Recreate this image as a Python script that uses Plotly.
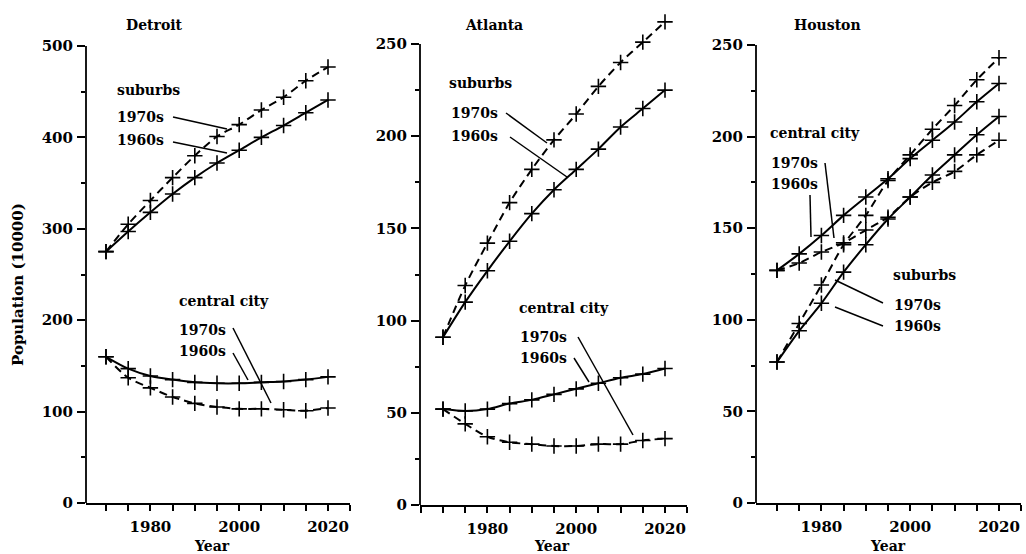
import plotly.graph_objects as go

W, H = 1026, 554

# ---------------- data ----------------
years = [1970, 1975, 1980, 1985, 1990, 1995, 2000, 2005, 2010, 2015, 2020]

detroit_suburbs_1960s = [275, 297, 318, 338, 356, 372, 386, 400, 413, 427, 441]
detroit_suburbs_1970s = [275, 305, 331, 356, 380, 401, 414, 430, 444, 462, 477]
detroit_central_1960s = [160, 147, 139, 135, 132, 131, 131, 132, 133, 135, 138]
detroit_central_1970s = [160, 137, 126, 116, 109, 105, 103, 103, 102, 101, 104]

atlanta_suburbs_1960s = [91, 110, 127, 143, 158, 171, 182, 193, 205, 215, 225]
atlanta_suburbs_1970s = [91, 119, 142, 164, 182, 198, 212, 227, 240, 251, 262]
atlanta_central_1960s = [52, 51, 52, 55, 57, 60, 63, 66, 69, 71, 74]
atlanta_central_1970s = [52, 44, 37, 34, 33, 32, 32, 33, 33, 35, 36]

houston_central_1960s = [127, 136, 146, 157, 167, 177, 188, 198, 208, 219, 229]
houston_central_1970s = [127, 131, 137, 142, 149, 156, 167, 175, 181, 190, 198]
houston_suburbs_1960s = [77, 94, 109, 126, 141, 155, 167, 179, 190, 201, 211]
houston_suburbs_1970s = [77, 98, 119, 141, 157, 176, 190, 204, 217, 231, 243]

city_names = ["Detroit", "Atlanta", "Houston"]
y_tops = [500, 250, 250]
y_major = [100, 50, 50]
x_label_ticks = [1980, 2000, 2020]

FONT = "DejaVu Serif"


def px(x):
    return x / W


def py(y):
    return 1 - y / H


fig = go.Figure()

# pixel layout of each panel: (axis-left px, 1970 px, 2020 px, y0 px, ytop px)
panel_px = [
    (86, 106, 328, 503, 46),
    (420, 443, 665, 505, 44),
    (756, 777, 999, 503, 45),
]

series = [
    [(detroit_suburbs_1960s, "solid"), (detroit_suburbs_1970s, "8px,5px"),
     (detroit_central_1960s, "solid"), (detroit_central_1970s, "8px,5px")],
    [(atlanta_suburbs_1960s, "solid"), (atlanta_suburbs_1970s, "8px,5px"),
     (atlanta_central_1960s, "solid"), (atlanta_central_1970s, "8px,5px")],
    [(houston_central_1960s, "solid"), (houston_central_1970s, "8px,5px"),
     (houston_suburbs_1960s, "solid"), (houston_suburbs_1970s, "8px,5px")],
]

tickfont = dict(family=FONT, size=15, color="black", weight="bold")

for i in range(3):
    ax_left, x1970, x2020, y0px, ytoppx = panel_px[i]
    sx = (x2020 - x1970) / 50.0
    xmin = 1970 - (x1970 - ax_left) / sx
    xmax = 2025
    xright = x1970 + 55 * sx
    sy = (y0px - ytoppx) / y_tops[i]
    ymax = y_tops[i] * 1.08
    top_px = y0px - ymax * sy
    xa = "x" if i == 0 else f"x{i+1}"
    ya = "y" if i == 0 else f"y{i+1}"
    xkey = "xaxis" if i == 0 else f"xaxis{i+1}"
    ykey = "yaxis" if i == 0 else f"yaxis{i+1}"

    for vals, dash in series[i]:
        fig.add_trace(go.Scatter(
            x=years, y=vals, xaxis=xa, yaxis=ya, mode="lines+markers",
            line=dict(color="black", width=2, dash=dash, shape="spline", smoothing=0.8),
            marker=dict(symbol="cross-thin", size=11, line=dict(color="black", width=1.6)),
            showlegend=False, hoverinfo="skip", cliponaxis=False,
        ))

    fig.layout[xkey] = dict(
        domain=[px(ax_left), px(xright)], range=[xmin, xmax], anchor=ya,
        automargin=False,
        showline=True, linecolor="black", linewidth=1.8, showgrid=False, zeroline=False,
        ticks="outside", ticklen=6, tickwidth=1.5, tickcolor="black",
        tickmode="array", tickvals=x_label_ticks, ticktext=[str(v) for v in x_label_ticks],
        minor=dict(dtick=5, tick0=1970, ticks="outside", ticklen=6, tickwidth=1.5,
                   tickcolor="black", showgrid=False),
        tickfont=tickfont, ticklabelstandoff=3,
    )
    fig.layout[ykey] = dict(
        domain=[py(y0px), py(top_px)], range=[0, ymax], anchor=xa,
        automargin=False,
        showline=False, showgrid=False, zeroline=False,
        ticks="outside", ticklen=8, tickwidth=1.5, tickcolor="black",
        tick0=0, dtick=y_major[i],
        minor=dict(dtick=y_major[i] / 2, tick0=0, ticks="outside", ticklen=4,
                   tickwidth=1.5, tickcolor="black", showgrid=False),
        tickfont=tickfont, ticklabelstandoff=1,
    )
    # y-axis line ending at the top tick
    fig.add_shape(type="line", xref=f"{xa} domain", yref=ya, x0=0, x1=0,
                  y0=0, y1=y_tops[i], line=dict(color="black", width=1.8))

# ---------------- text ----------------
afont = dict(family=FONT, size=14, color="black", weight="bold")


def label(text, x, y, anchor="left", size=None, angle=0):
    f = dict(afont)
    if size:
        f["size"] = size
    fig.add_annotation(text=text, x=px(x), y=py(y), xref="paper", yref="paper",
                       xanchor=anchor, yanchor="middle", showarrow=False, font=f,
                       textangle=angle)


def leader(x0, y0, x1, y1):
    fig.add_shape(type="line", xref="paper", yref="paper",
                  x0=px(x0), y0=py(y0), x1=px(x1), y1=py(y1),
                  line=dict(color="black", width=1.5))


label(city_names[0], 154, 25, "center")
label(city_names[1], 494, 25, "center")
label(city_names[2], 827, 25, "center")

label("Population (10000)", 18, 285, "center", size=15, angle=-90)
label("Year", 212, 546, "center")
label("Year", 552, 546, "center")
label("Year", 888, 546, "center")

# Detroit
label("suburbs", 115, 90)
label("1970s", 115, 117)
label("1960s", 115, 140)
leader(173, 117, 227, 129)
leader(173, 142, 227, 153)
label("central city", 177, 301)
label("1970s", 177, 330)
label("1960s", 177, 351)
leader(233, 328, 271, 403)
leader(233, 353, 248, 380)

# Atlanta
label("suburbs", 447, 83)
label("1970s", 449, 113)
label("1960s", 449, 136)
leader(506, 113, 547, 143)
leader(510, 137, 567, 177)
label("central city", 517, 308)
label("1970s", 518, 337)
label("1960s", 518, 358)
leader(578, 337, 633, 435)
leader(574, 358, 589, 382)

# Houston
label("central city", 768, 133)
label("1970s", 769, 163)
label("1960s", 769, 184)
leader(825, 163, 834, 238)
leader(810, 195, 811, 237)
label("suburbs", 891, 275)
label("1970s", 892, 305)
label("1960s", 892, 326)
leader(883, 303, 835, 280)
leader(883, 326, 835, 307)

fig.update_layout(
    width=W, height=H, margin=dict(l=0, r=0, t=0, b=0, pad=0, autoexpand=False),
    paper_bgcolor="white", plot_bgcolor="white", showlegend=False,
)

css_fix = (
    "var s=document.createElement('style');"
    "s.innerHTML='html,body{margin:0;padding:0;overflow:hidden;}';"
    "document.head.appendChild(s);"
)

fig.write_html("out.html", config={"displayModeBar": False}, post_script=css_fix)
